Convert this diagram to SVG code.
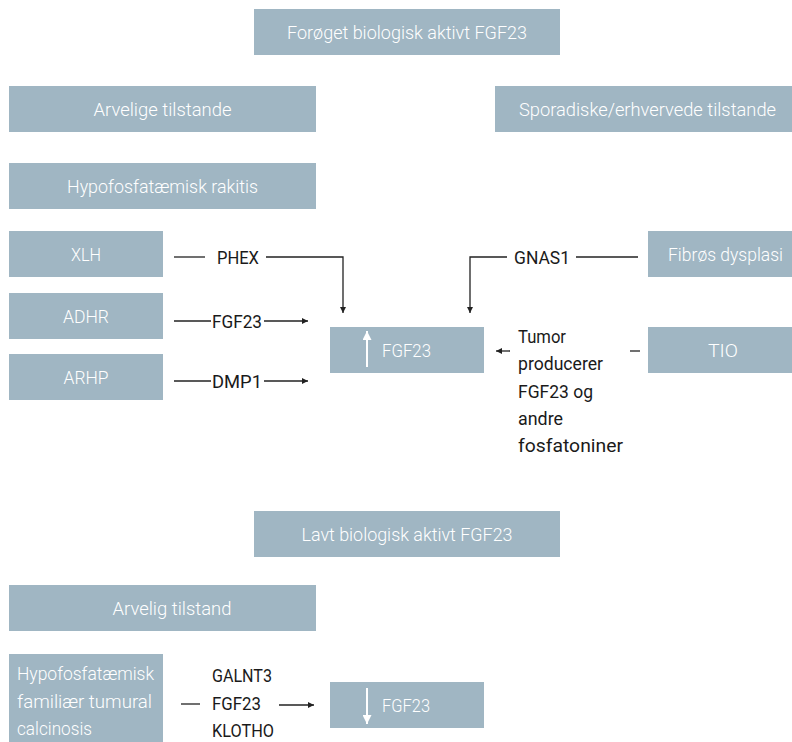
<svg xmlns="http://www.w3.org/2000/svg" width="792" height="742" viewBox="0 0 792 742">
<defs>
<style>
.box{fill:#a0b6c3}
.bt{fill:#ffffff;font-family:"Roboto","Liberation Sans",sans-serif;font-size:19px;font-weight:300;text-anchor:middle}
.bl{fill:#ffffff;font-family:"Roboto","Liberation Sans",sans-serif;font-size:19px;font-weight:300}
.lt{fill:#1a1a1a;font-family:"Roboto","Liberation Sans",sans-serif;font-size:19px;font-weight:400}
.ln{fill:none;stroke:#222;stroke-width:1.3}
.wl{fill:none;stroke:#fff;stroke-width:2}
</style>
<marker id="ah" viewBox="0 0 10 10" refX="10" refY="5" markerWidth="6" markerHeight="6" markerUnits="userSpaceOnUse" orient="auto">
<path d="M0,0 L10,5 L0,10 z" fill="#222"/>
</marker>
<marker id="wh" viewBox="0 0 10 10" refX="10" refY="5" markerWidth="9" markerHeight="9" markerUnits="userSpaceOnUse" orient="auto">
<path d="M0,0 L10,5 L0,10 z" fill="#fff"/>
</marker>
</defs>
<rect width="792" height="742" fill="#fff"/>

<g id="n-foroget"><rect class="box" x="254" y="9" width="306" height="46"/><text class="bt" x="407" y="38.5" textLength="240" lengthAdjust="spacingAndGlyphs">Forøget biologisk aktivt FGF23</text></g>
<g id="n-arvelige"><rect class="box" x="9" y="86" width="307" height="46"/><text class="bt" x="162.5" y="115.5" textLength="138" lengthAdjust="spacingAndGlyphs">Arvelige tilstande</text></g>
<g id="n-sporadiske"><rect class="box" x="495" y="86" width="297" height="46"/><text class="bt" x="647.5" y="115.5" textLength="257" lengthAdjust="spacingAndGlyphs">Sporadiske/erhvervede tilstande</text></g>
<g id="n-rakitis"><rect class="box" x="9" y="163" width="307" height="46"/><text class="bt" x="162.5" y="192.5" textLength="191" lengthAdjust="spacingAndGlyphs">Hypofosfatæmisk rakitis</text></g>
<g id="n-xlh"><rect class="box" x="9" y="231" width="154" height="46"/><text class="bt" x="86" y="260.5" textLength="30" lengthAdjust="spacingAndGlyphs">XLH</text></g>
<g id="n-adhr"><rect class="box" x="9" y="293" width="154" height="46"/><text class="bt" x="86" y="322.5" textLength="46" lengthAdjust="spacingAndGlyphs">ADHR</text></g>
<g id="n-arhp"><rect class="box" x="9" y="354" width="154" height="46"/><text class="bt" x="86" y="383.5" textLength="45" lengthAdjust="spacingAndGlyphs">ARHP</text></g>
<g id="n-fibros"><rect class="box" x="648" y="231" width="144" height="46"/><text class="bt" x="725.5" y="260.5" textLength="115" lengthAdjust="spacingAndGlyphs">Fibrøs dysplasi</text></g>
<g id="n-tio"><rect class="box" x="648" y="327" width="144" height="46"/><text class="bt" x="723" y="356.5" textLength="30" lengthAdjust="spacingAndGlyphs">TIO</text></g>
<g id="n-fgf23up"><rect class="box" x="330" y="327" width="154" height="46"/><line class="wl" x1="367" y1="367" x2="367" y2="331" marker-end="url(#wh)"/><text class="bl" x="382" y="356.5" textLength="49" lengthAdjust="spacingAndGlyphs">FGF23</text></g>

<g id="n-lavt"><rect class="box" x="254" y="511" width="306" height="46"/><text class="bt" x="407" y="540.5" textLength="211" lengthAdjust="spacingAndGlyphs">Lavt biologisk aktivt FGF23</text></g>
<g id="n-arvelig"><rect class="box" x="9" y="585" width="307" height="46"/><text class="bt" x="172" y="614.5" textLength="119" lengthAdjust="spacingAndGlyphs">Arvelig tilstand</text></g>
<g id="n-calcinosis"><rect class="box" x="9" y="654" width="154" height="88"/><text class="bl" x="17" y="679.5" textLength="137" lengthAdjust="spacingAndGlyphs">Hypofosfatæmisk</text><text class="bl" x="17" y="707.5" textLength="135" lengthAdjust="spacingAndGlyphs">familiær tumural</text><text class="bl" x="17" y="734.5" textLength="75" lengthAdjust="spacingAndGlyphs">calcinosis</text></g>
<g id="n-fgf23down"><rect class="box" x="330" y="682" width="154" height="46"/><line class="wl" x1="367" y1="688" x2="367" y2="724" marker-end="url(#wh)"/><text class="bl" x="382" y="711.5" textLength="48" lengthAdjust="spacingAndGlyphs">FGF23</text></g>

<g id="connectors">
<line class="ln" x1="174" y1="257" x2="205" y2="257"/>
<text class="lt" x="217" y="264" textLength="42" lengthAdjust="spacingAndGlyphs">PHEX</text>
<polyline class="ln" points="266,257 343,257 343,313" marker-end="url(#ah)"/>
<line class="ln" x1="174" y1="321" x2="211" y2="321"/>
<text class="lt" x="212" y="328" textLength="50" lengthAdjust="spacingAndGlyphs">FGF23</text>
<line class="ln" x1="264" y1="321" x2="308" y2="321" marker-end="url(#ah)"/>
<line class="ln" x1="174" y1="381" x2="211" y2="381"/>
<text class="lt" x="212" y="388" textLength="50" lengthAdjust="spacingAndGlyphs">DMP1</text>
<line class="ln" x1="264" y1="381" x2="308" y2="381" marker-end="url(#ah)"/>
<line class="ln" x1="638" y1="257" x2="576" y2="257"/>
<text class="lt" x="514" y="264" textLength="56" lengthAdjust="spacingAndGlyphs">GNAS1</text>
<polyline class="ln" points="507,257 470,257 470,313" marker-end="url(#ah)"/>
<line class="ln" x1="630" y1="351" x2="640" y2="351"/>
<line class="ln" x1="510" y1="351" x2="496" y2="351" marker-end="url(#ah)"/>
<text class="lt" x="518" y="343" textLength="48" lengthAdjust="spacingAndGlyphs">Tumor</text>
<text class="lt" x="518" y="370" textLength="85" lengthAdjust="spacingAndGlyphs">producerer</text>
<text class="lt" x="518" y="398" textLength="75" lengthAdjust="spacingAndGlyphs">FGF23 og</text>
<text class="lt" x="518" y="425" textLength="45" lengthAdjust="spacingAndGlyphs">andre</text>
<text class="lt" x="518" y="452" textLength="105" lengthAdjust="spacingAndGlyphs">fosfatoniner</text>
<line class="ln" x1="181" y1="704" x2="200" y2="704"/>
<text class="lt" x="212" y="682" textLength="60" lengthAdjust="spacingAndGlyphs">GALNT3</text>
<text class="lt" x="212" y="710" textLength="49" lengthAdjust="spacingAndGlyphs">FGF23</text>
<text class="lt" x="212" y="737" textLength="62" lengthAdjust="spacingAndGlyphs">KLOTHO</text>
<line class="ln" x1="279" y1="705" x2="314" y2="705" marker-end="url(#ah)"/>
</g>
</svg>
